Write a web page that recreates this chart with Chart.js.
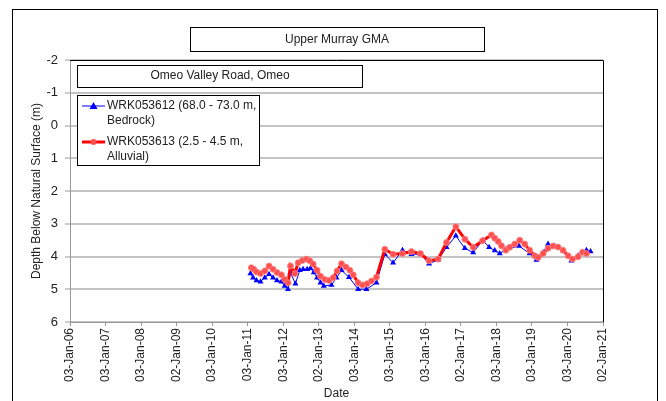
<!DOCTYPE html>
<html>
<head>
<meta charset="utf-8">
<script src="https://cdn.jsdelivr.net/npm/chart.js@4.4.1/dist/chart.umd.min.js"></script>
<style>
  html, body { margin: 0; padding: 0; background: #fff; }
</style>
</head>
<body>
<canvas id="depthChart" width="666" height="401"></canvas>
<script>
const startDate = '2006-01-03';
const tickLabels = ['03-Jan-06', '03-Jan-07', '03-Jan-08', '02-Jan-09', '03-Jan-10', '03-Jan-11',
  '03-Jan-12', '02-Jan-13', '03-Jan-14', '03-Jan-15', '03-Jan-16', '02-Jan-17', '03-Jan-18',
  '03-Jan-19', '03-Jan-20', '02-Jan-21'];

const seriesNames = [
  ['WRK053612 (68.0 - 73.0 m,', 'Bedrock)'],
  ['WRK053613 (2.5 - 4.5 m,', 'Alluvial)']
];

const bedrockDates = ['2011-02-01', '2011-02-28', '2011-04-04', '2011-05-15', '2011-06-28', '2011-08-11',
  '2011-09-21', '2011-11-01', '2011-12-16', '2012-01-19', '2012-02-22', '2012-03-18', '2012-05-08',
  '2012-06-22', '2012-07-26', '2012-09-05', '2012-10-10', '2012-11-13', '2012-12-17', '2013-01-21',
  '2013-02-24', '2013-05-14', '2013-07-04', '2013-08-25', '2013-11-10', '2014-02-12', '2014-05-08',
  '2014-08-19', '2014-11-13', '2015-02-06', '2015-05-14', '2015-08-14', '2015-11-14', '2016-02-11',
  '2016-05-14', '2016-08-08', '2016-11-12', '2017-02-13', '2017-05-09', '2017-08-17', '2017-10-20',
  '2017-12-17', '2018-02-06', '2018-04-13', '2018-08-24', '2018-12-11', '2019-02-19', '2019-04-28',
  '2019-06-18', '2019-08-26', '2019-11-19', '2020-02-13', '2020-04-21', '2020-07-17', '2020-08-28'];
const bedrockDepths = [4.52, 4.65, 4.73, 4.77, 4.65, 4.54, 4.65, 4.73, 4.77, 4.90, 5.00, 4.49, 4.83,
  4.42, 4.39, 4.39, 4.36, 4.49, 4.65, 4.80, 4.90, 4.87, 4.65, 4.42, 4.63, 5.00, 5.00, 4.80, 3.93,
  4.19, 3.81, 3.93, 3.93, 4.22, 4.10, 3.72, 3.37, 3.75, 3.88, 3.50, 3.72, 3.82, 3.91, 3.78, 3.68,
  3.91, 4.11, 3.88, 3.62, 3.68, 3.82, 4.13, 3.98, 3.81, 3.85];

const alluvialDates = ['2011-02-10', '2011-03-07', '2011-04-04', '2011-05-15', '2011-06-28', '2011-08-11',
  '2011-09-21', '2011-11-01', '2011-12-16', '2012-01-19', '2012-02-22', '2012-03-18', '2012-05-02',
  '2012-06-05', '2012-07-19', '2012-08-30', '2012-10-03', '2012-11-06', '2012-12-17', '2013-01-21',
  '2013-03-06', '2013-04-19', '2013-05-31', '2013-07-10', '2013-08-25', '2013-10-09', '2013-11-19',
  '2013-12-23', '2014-02-12', '2014-03-29', '2014-05-15', '2014-06-29', '2014-08-19', '2014-11-13',
  '2015-02-06', '2015-05-14', '2015-08-14', '2015-11-14', '2016-02-11', '2016-05-14', '2016-08-08',
  '2016-11-12', '2017-02-13', '2017-05-09', '2017-08-13', '2017-11-13', '2017-12-17', '2018-01-21',
  '2018-02-24', '2018-04-10', '2018-05-20', '2018-07-10', '2018-08-31', '2018-10-21', '2018-12-11',
  '2019-02-02', '2019-03-08', '2019-04-28', '2019-06-18', '2019-08-08', '2019-09-28', '2019-11-19',
  '2020-01-10', '2020-02-24', '2020-04-21', '2020-06-06', '2020-07-17'];
const alluvialDepths = [4.34, 4.39, 4.47, 4.52, 4.44, 4.29, 4.39, 4.49, 4.56, 4.70, 4.80, 4.29, 4.52,
  4.19, 4.12, 4.08, 4.13, 4.23, 4.42, 4.60, 4.70, 4.73, 4.65, 4.44, 4.22, 4.32, 4.42, 4.56, 4.80,
  4.87, 4.83, 4.75, 4.63, 3.78, 3.93, 3.91, 3.85, 3.91, 4.13, 4.08, 3.57, 3.09, 3.47, 3.72, 3.52,
  3.34, 3.44, 3.54, 3.67, 3.81, 3.72, 3.62, 3.50, 3.62, 3.81, 3.98, 4.03, 3.91, 3.75, 3.68, 3.71,
  3.81, 3.98, 4.08, 4.01, 3.87, 3.91];

// x values are days after the first axis date, axis steps one year (365.25 d)
const dayOf = d => (Date.parse(d) - Date.parse(startDate)) / 86400000;
const toPoints = (dates, vals) => dates.map((d, i) => ({ x: dayOf(d), y: vals[i] }));

const FONT = "'Liberation Sans', Arial, sans-serif";
const TEXT = '#222';

const boxesPlugin = {
  id: 'boxes',
  beforeDraw(chart) {
    const c = chart.ctx;
    c.save();
    c.fillStyle = '#fff';
    c.fillRect(0, 0, chart.width, chart.height);
    c.strokeStyle = '#000';
    c.lineWidth = 1;
    c.strokeRect(12.5, 9.5, 645, 420);
    c.restore();
  },
  afterDraw(chart) {
    const c = chart.ctx;
    const a = chart.chartArea;
    c.save();
    // top and right of plot frame
    c.strokeStyle = '#000';
    c.lineWidth = 1;
    c.beginPath();
    c.moveTo(a.left, a.top + 0.5);
    c.lineTo(a.right + 0.5, a.top + 0.5);
    c.lineTo(a.right + 0.5, a.bottom);
    c.stroke();

    const box = (x, y, w, h) => {
      c.fillStyle = '#fff';
      c.fillRect(x, y, w, h);
      c.strokeStyle = '#000';
      c.lineWidth = 1;
      c.strokeRect(x + 0.5, y + 0.5, w, h);
    };
    c.font = '12px ' + FONT;
    c.textBaseline = 'middle';

    box(190, 27, 294, 24);
    c.fillStyle = TEXT;
    c.textAlign = 'center';
    c.fillText('Upper Murray GMA', 337, 40);

    box(77, 65, 285, 22);
    c.fillStyle = TEXT;
    c.fillText('Omeo Valley Road, Omeo', 220, 76);

    box(77, 95, 182, 70);
    c.textAlign = 'left';
    chart.data.datasets.forEach((ds, i) => {
      const y = 106 + i * 36;
      c.strokeStyle = ds.borderColor;
      c.lineWidth = ds.borderWidth;
      c.beginPath();
      c.moveTo(82, y);
      c.lineTo(105, y);
      c.stroke();
      c.fillStyle = ds.pointBackgroundColor;
      if (ds.pointStyle === 'triangle') {
        c.beginPath();
        c.moveTo(93.5, y - 4);
        c.lineTo(97.5, y + 3);
        c.lineTo(89.5, y + 3);
        c.closePath();
        c.fill();
      } else {
        c.beginPath();
        c.arc(93.5, y, 3, 0, Math.PI * 2);
        c.fill();
      }
      c.fillStyle = TEXT;
      c.fillText(seriesNames[i][0], 107, y);
      c.fillText(seriesNames[i][1], 107, y + 15);
    });
    c.restore();
  }
};

new Chart(document.getElementById('depthChart'), {
  type: 'line',
  data: {
    datasets: [
      {
        label: seriesNames[0].join(' '),
        data: toPoints(bedrockDates, bedrockDepths),
        borderColor: '#0000ff',
        borderWidth: 1,
        pointStyle: 'triangle',
        pointRadius: 3.5,
        pointBackgroundColor: '#0000ff',
        pointBorderColor: '#0000ff',
        pointBorderWidth: 0,
        tension: 0,
        order: 1
      },
      {
        label: seriesNames[1].join(' '),
        data: toPoints(alluvialDates, alluvialDepths),
        borderColor: '#ff0000',
        borderWidth: 3,
        pointStyle: 'circle',
        pointRadius: 3,
        pointBackgroundColor: '#ff5050',
        pointBorderColor: 'rgba(255,130,130,0.8)',
        pointBorderWidth: 1,
        tension: 0,
        order: 0
      }
    ]
  },
  options: {
    responsive: false,
    animation: false,
    events: [],
    layout: { padding: { left: 26, right: 63, top: 60, bottom: 0 } },
    plugins: {
      legend: { display: false },
      title: { display: false },
      tooltip: { enabled: false }
    },
    scales: {
      x: {
        type: 'linear',
        min: 0,
        max: 365.25 * 15,
        afterFit: s => { s.height = 79; },
        grid: { drawOnChartArea: false, drawTicks: true, tickLength: 4, tickColor: '#999', tickWidth: 1 },
        border: { color: '#999', width: 1 },
        ticks: {
          stepSize: 365.25,
          autoSkip: false,
          maxRotation: 90,
          minRotation: 90,
          padding: 2,
          color: TEXT,
          font: { family: FONT, size: 12 },
          callback: (v, i) => tickLabels[i]
        },
        title: { display: true, text: 'Date', color: TEXT, padding: { top: 0, bottom: 0 }, font: { family: FONT, size: 12 } }
      },
      y: {
        reverse: true,
        min: -2,
        max: 6,
        afterFit: s => { s.width = 44; },
        grid: { color: '#c4c4c4', lineWidth: 2, drawTicks: true, tickLength: 5, tickColor: '#999', tickWidth: 1 },
        border: { color: '#999', width: 1 },
        ticks: {
          stepSize: 1,
          padding: 7,
          color: TEXT,
          font: { family: FONT, size: 13 }
        },
        title: { display: true, text: 'Depth Below Natural Surface (m)', color: TEXT, padding: { top: 3, bottom: 0 }, font: { family: FONT, size: 12 } }
      }
    }
  },
  plugins: [boxesPlugin]
});
</script>
</body>
</html>
